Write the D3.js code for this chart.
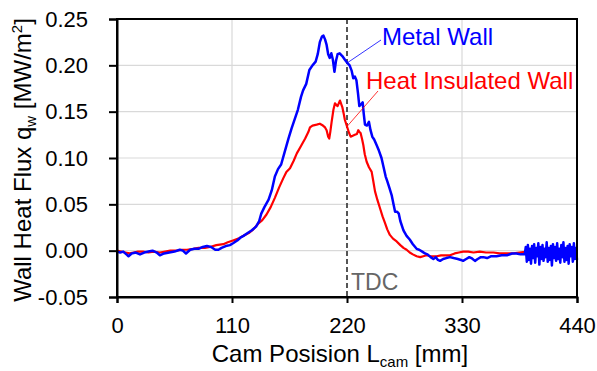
<!DOCTYPE html>
<html>
<head>
<meta charset="utf-8">
<script src="https://cdn.jsdelivr.net/npm/d3@7"></script>
<style>
  body { margin: 0; background: #fff; }
  svg { display: block; font-family: "Liberation Sans", Arial, sans-serif; }
</style>
</head>
<body>
<svg id="chart" width="597" height="371"></svg>
<script>
// Cam position [mm] vs wall heat flux [MW/m2]
const xTicks = [0, 110, 220, 330, 440];
const yTicks = [-0.05, 0, 0.05, 0.1, 0.15, 0.2, 0.25];

const metalWall = [
  [0,-0.001],[3,-0.002],[6,-0.001],[9,-0.004],[11,-0.006],[14,-0.003],[18,-0.002],[22,-0.004],
  [26,-0.002],[30,-0.001],[34,0.000],[38,-0.002],[41,-0.005],[45,-0.003],[50,-0.002],[55,-0.001],
  [60,0.001],[63,0.000],[66,-0.003],[70,0.001],[74,0.002],[78,0.002],[82,0.004],[86,0.005],
  [90,0.004],[94,0.001],[97,0.001],[100,0.003],[104,0.005],[108,0.006],[111,0.008],[115,0.011],
  [118,0.014],[121,0.016],[125,0.019],[129,0.022],[133,0.026],[136,0.032],[138,0.040],[141,0.047],
  [145,0.055],[148,0.065],[151,0.080],[154,0.088],[157,0.093],[160,0.105],[164,0.121],[167,0.132],
  [170,0.142],[173,0.152],[176,0.166],[178,0.173],[181,0.180],[184,0.195],[187,0.200],[190,0.204],
  [192,0.212],[194,0.225],[196,0.231],[197.5,0.232],[199,0.228],[200.5,0.222],[202,0.212],[203.5,0.208],
  [205,0.213],[206.5,0.206],[208,0.193],[209.5,0.205],[211,0.212],[213,0.213],[215.5,0.210],[218,0.206],
  [220,0.203],[222.5,0.200],[224.5,0.194],[226,0.186],[227.5,0.188],[229,0.184],[230.5,0.170],[231.8,0.156],
  [233.5,0.158],[235,0.160],[236,0.148],[237.2,0.136],[239,0.135],[241,0.139],[242.5,0.130],[244.2,0.123],
  [246,0.120],[248.3,0.114],[250.5,0.108],[253,0.100],[255,0.090],[257,0.080],[258.5,0.075],[260.5,0.068],
  [262.7,0.060],[264.5,0.050],[266,0.042],[268,0.042],[269.5,0.040],[271,0.032],[274,0.022],[277,0.016],
  [280,0.012],[283,0.007],[286.6,0.002],[289,0.001],[292,-0.001],[294.6,-0.003],[297,-0.004],[300,-0.007],
  [302.6,-0.009],[305,-0.007],[307,-0.010],[309,-0.011],[312,-0.009],[315,-0.008],[318.5,-0.007],[322,-0.008],
  [326,-0.009],[329,-0.010],[331,-0.011],[334,-0.009],[337,-0.007],[339,-0.008],[342.4,-0.011],[345,-0.009],
  [348,-0.007],[350.4,-0.007],[354,-0.008],[358,-0.006],[363,-0.006],[368,-0.005],[373,-0.005],[378,-0.003],
  [382,-0.003],[386,-0.004],[390,-0.004],
  // noisy tail after ~390 mm
  [391,0.004],[392,-0.012],[393,0.006],[394,-0.010],[395,0.002],[396,-0.014],[397,0.005],[398,-0.008],
  [399,0.007],[400,-0.013],[401,0.003],[402,-0.006],[403,0.008],[404,-0.015],[405,0.004],[406,-0.009],
  [407,0.006],[408,-0.011],[409,0.002],[410,-0.007],[411,0.009],[412,-0.012],[413,0.003],[414,-0.010],
  [415,0.005],[416,-0.016],[417,0.007],[418,-0.008],[419,0.004],[420,-0.011],[421,0.008],[422,-0.009],
  [423,0.002],[424,-0.013],[425,0.006],[426,-0.007],[427,0.009],[428,-0.012],[429,0.003],[430,-0.010],
  [431,0.005],[432,-0.014],[433,0.007],[434,-0.006],[435,0.004],[436,-0.012],[437,0.008],[438,-0.009],
  [439,0.003],[440,-0.010]
];

const insulatedWall = [
  [0,0.000],[4,-0.001],[8,-0.002],[12,-0.003],[16,-0.002],[20,-0.001],[25,-0.001],[30,-0.002],
  [35,-0.001],[41,-0.002],[46,-0.001],[51,0.000],[57,0.000],[62,0.001],[67,0.001],[73,0.002],
  [78,0.003],[84,0.003],[89,0.004],[95,0.006],[101.7,0.007],[106,0.009],[111,0.011],[116,0.013],
  [121,0.016],[126,0.019],[130.4,0.023],[135,0.029],[139,0.033],[143,0.039],[147,0.047],[151,0.057],
  [155,0.068],[159,0.078],[162,0.085],[165.5,0.089],[169,0.097],[172,0.105],[176,0.113],[180,0.121],
  [183,0.128],[184.6,0.133],[187,0.135],[191,0.136],[194,0.137],[197,0.135],[199,0.133],[200.5,0.130],
  [202,0.123],[203,0.121],[204,0.128],[205.3,0.139],[207,0.152],[208.5,0.159],[210,0.157],[211,0.156],
  [213.3,0.162],[215.5,0.155],[217,0.147],[218,0.141],[220,0.134],[222,0.127],[223.5,0.123],[225.5,0.124],
  [227.5,0.125],[229.5,0.126],[230.8,0.130],[232,0.128],[233,0.127],[234.5,0.120],[235.6,0.114],[237,0.104],
  [238.8,0.096],[241,0.090],[243.6,0.085],[245,0.076],[246.8,0.064],[249,0.055],[251.5,0.046],[254,0.037],
  [256.3,0.030],[258.5,0.023],[261,0.017],[264,0.013],[267.5,0.010],[271,0.006],[274,0.003],[277,0.001],
  [280,-0.002],[283,-0.004],[286.6,-0.006],[290,-0.007],[293,-0.006],[296,-0.005],[300,-0.006],[305.6,-0.006],
  [310,-0.005],[314,-0.005],[318.5,-0.005],[323,-0.003],[327,-0.002],[331,-0.001],[336,-0.001],[341,-0.002],
  [347,-0.001],[353,-0.002],[360,-0.002],[366,-0.003],[372,-0.003],[379,-0.003],[385,-0.002],[392,-0.001],
  [400,-0.001],[408,-0.002],[416,-0.001],[424,-0.001],[432,0.000],[440,0.000]
];

const tdc = 220;

const svg = d3.select("#chart");
const plotLeft = 117, plotRight = 577, plotTop = 19, plotBottom = 297;

const x = d3.scaleLinear().domain([0, 440]).range([plotLeft, plotRight]);
const y = d3.scaleLinear().domain([-0.05, 0.25]).range([plotBottom, plotTop]);

// Grid lines
svg.append("g")
  .selectAll("line")
  .data(yTicks.slice(1, -1))
  .enter()
  .append("line")
  .attr("x1", plotLeft).attr("x2", plotRight)
  .attr("y1", (d) => y(d)).attr("y2", (d) => y(d))
  .attr("stroke", "#d9d9d9")
  .attr("stroke-width", 1.2);

svg.append("g")
  .selectAll("line")
  .data(xTicks.slice(1, -1).filter((d) => d !== tdc))
  .enter()
  .append("line")
  .attr("x1", (d) => x(d)).attr("x2", (d) => x(d))
  .attr("y1", plotTop).attr("y2", plotBottom)
  .attr("stroke", "#d9d9d9")
  .attr("stroke-width", 1.2);

// TDC marker
svg.append("line")
  .attr("x1", x(tdc)).attr("x2", x(tdc))
  .attr("y1", plotTop).attr("y2", plotBottom)
  .attr("stroke", "#555")
  .attr("stroke-width", 2)
  .attr("stroke-dasharray", "5,3");

svg.append("text")
  .attr("x", x(tdc) + 4)
  .attr("y", 290)
  .attr("fill", "#666")
  .style("font-size", "23px")
  .text("TDC");

// Curves
const line = d3.line()
  .x((d) => x(d[0]))
  .y((d) => y(d[1]));

svg.append("path")
  .datum(insulatedWall)
  .attr("fill", "none")
  .attr("stroke", "#ff0000")
  .attr("stroke-width", 2.2)
  .attr("stroke-linejoin", "round")
  .attr("d", line);

svg.append("path")
  .datum(metalWall)
  .attr("fill", "none")
  .attr("stroke", "#0000ff")
  .attr("stroke-width", 2.5)
  .attr("stroke-linejoin", "round")
  .attr("d", line);

// Frame
svg.append("rect")
  .attr("x", plotLeft).attr("y", plotTop)
  .attr("width", plotRight - plotLeft).attr("height", plotBottom - plotTop)
  .attr("fill", "none")
  .attr("stroke", "#000")
  .attr("stroke-width", 2);

// Axes (plain hyphen for negatives, as in the original)
const fmtY = (d) => d3.format(".2f")(d).replace("\u2212", "-");

const xAxis = svg.append("g")
  .attr("transform", `translate(0,${plotBottom})`)
  .call(d3.axisBottom(x).tickValues(xTicks).tickSize(6).tickPadding(14).tickFormat(d3.format("d")));

const yAxis = svg.append("g")
  .attr("transform", `translate(${plotLeft},0)`)
  .call(d3.axisLeft(y).tickValues(yTicks).tickSize(8).tickPadding(21).tickFormat(fmtY));

[xAxis, yAxis].forEach((g) => {
  g.select(".domain").attr("stroke", "#000").attr("stroke-width", 2);
  g.selectAll(".tick line").attr("stroke", "#000").attr("stroke-width", 2);
  g.selectAll(".tick text")
    .attr("fill", "#000")
    .style("font-size", "22px")
    .style("font-family", "'Liberation Sans', Arial, sans-serif");
});

// Axis titles
const xTitle = svg.append("text")
  .attr("x", 340)
  .attr("y", 362)
  .attr("text-anchor", "middle")
  .style("font-size", "24px");
xTitle.append("tspan").text("Cam Posision L");
xTitle.append("tspan").attr("dy", 5).style("font-size", "15px").text("cam");
xTitle.append("tspan").attr("dy", -5).text(" [mm]");

const yTitle = svg.append("text")
  .attr("transform", "translate(31,160) rotate(-90)")
  .attr("text-anchor", "middle")
  .style("font-size", "24px");
yTitle.append("tspan").text("Wall Heat Flux q");
yTitle.append("tspan").attr("dy", 5).style("font-size", "15px").text("w");
yTitle.append("tspan").attr("dy", -5).text(" [MW/m");
yTitle.append("tspan").attr("dy", -9).style("font-size", "15px").text("2");
yTitle.append("tspan").attr("dy", 9).text("]");

// Annotations with leader lines
const labels = [
  { text: "Metal Wall", color: "#0000ff", at: [220, 0.2025], tx: 382, ty: 45, lx: 381, ly: 40 },
  { text: "Heat Insulated Wall", color: "#ff0000", at: [220, 0.134], tx: 366, ty: 89, lx: 378, ly: 91 }
];

labels.forEach((l) => {
  svg.append("line")
    .attr("x1", x(l.at[0])).attr("y1", y(l.at[1]))
    .attr("x2", l.lx).attr("y2", l.ly)
    .attr("stroke", l.color)
    .attr("stroke-width", 0.8);
  svg.append("text")
    .attr("x", l.tx).attr("y", l.ty)
    .attr("fill", l.color)
    .style("font-size", "24px")
    .text(l.text);
});
</script>
</body>
</html>
